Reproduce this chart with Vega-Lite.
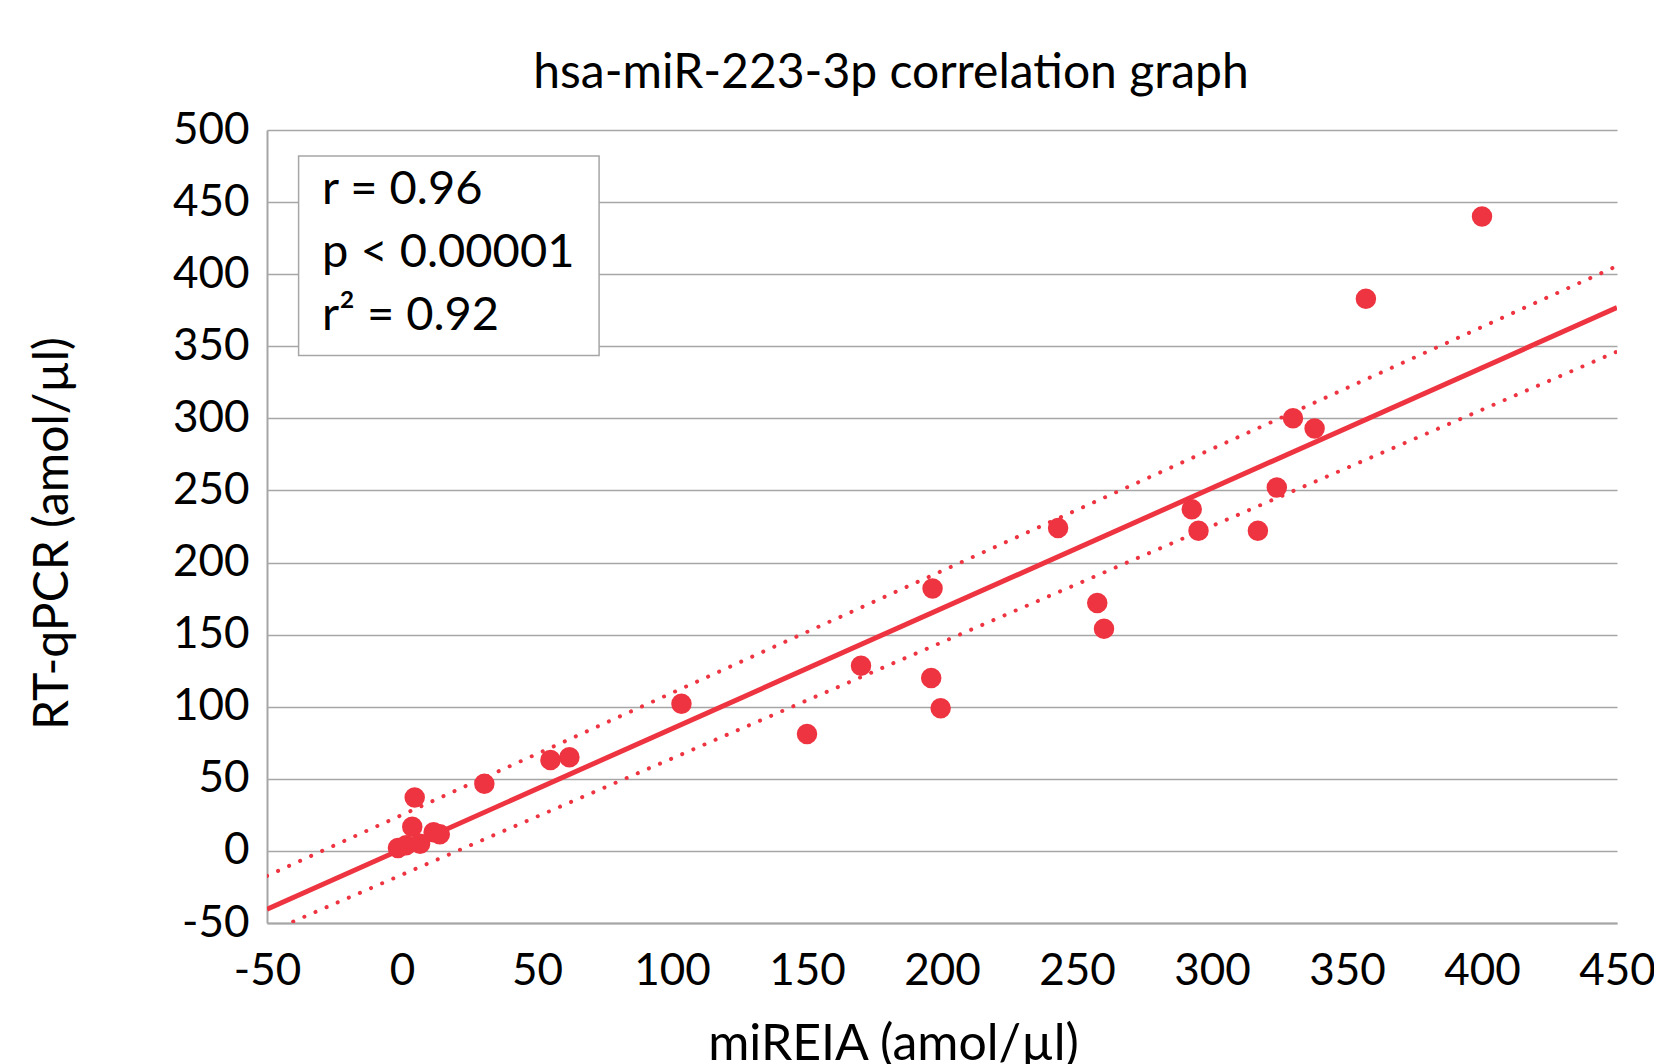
{
  "$schema": "https://vega.github.io/schema/vega-lite/v6.json",
  "width": 1350,
  "height": 793,
  "autosize": {"type": "none"},
  "padding": {"left": 267, "top": 130, "right": 37, "bottom": 141},
  "background": "white",
  "config": {
    "view": {"stroke": null},
    "font": "Lato"
  },
  "title": {
    "text": "hsa-miR-223-3p correlation graph",
    "font": "Lato",
    "fontSize": 48,
    "fontWeight": "normal",
    "color": "#000000",
    "anchor": "middle",
    "frame": "group",
    "baseline": "alphabetic",
    "offset": -28,
    "dx": -51
  },
  "datasets": {
    "points": [
      {"x": 400, "y": 440}, {"x": 357, "y": 383}, {"x": 330, "y": 300}, {"x": 338, "y": 293},
      {"x": 324, "y": 252}, {"x": 292.5, "y": 237}, {"x": 295, "y": 222}, {"x": 317, "y": 222},
      {"x": 243, "y": 224}, {"x": 196.5, "y": 182}, {"x": 257.5, "y": 172}, {"x": 260, "y": 154},
      {"x": 170, "y": 128.5}, {"x": 196, "y": 120}, {"x": 199.5, "y": 99}, {"x": 150, "y": 81},
      {"x": 103.5, "y": 102}, {"x": 62, "y": 65}, {"x": 55, "y": 63}, {"x": 30.5, "y": 46.5},
      {"x": 4.7, "y": 37}, {"x": 3.8, "y": 16.8}, {"x": 11.7, "y": 13}, {"x": 14, "y": 11.6},
      {"x": 6.7, "y": 5}, {"x": -1.5, "y": 2}, {"x": 1.5, "y": 4}
    ],
    "fit": [
      {"x": -50, "y": -40.4}, {"x": 450, "y": 376.8}
    ],
    "bands": [
      {"band": "upper", "x": -50, "y": -17.3}, {"band": "upper", "x": 450, "y": 405.7},
      {"band": "lower", "x": -40.3, "y": -49}, {"band": "lower", "x": 450, "y": 346.3}
    ],
    "box": [
      {"x1": -38.3, "x2": 73, "y1": 343.6, "y2": 482}
    ],
    "notes": [
      {"x": -29.6, "y": 458.4, "label": "r = 0.96"},
      {"x": -29.6, "y": 414.7, "label": "p < 0.00001"},
      {"x": -29.6, "y": 371, "label": "r² = 0.92"}
    ]
  },
  "layer": [
    {
      "data": {"name": "points"},
      "mark": {"type": "point", "opacity": 0},
      "encoding": {
        "x": {
          "field": "x", "type": "quantitative",
          "scale": {"domain": [-50, 450], "nice": false, "zero": false},
          "axis": {
            "values": [-50, 0, 50, 100, 150, 200, 250, 300, 350, 400, 450],
            "labelExpr": "'' + datum.value",
            "title": "miREIA (amol/µl)",
            "titleFont": "Lato", "titleFontSize": 50, "titleFontWeight": "normal", "titleColor": "#000000",
            "titleX": 626, "titleY": 121, "titleBaseline": "middle", "titleAlign": "center", "titleAnchor": null,
            "labelFont": "Lato", "labelFontSize": 44, "labelColor": "#000000",
            "labelPadding": 26, "labelFlush": false, "labelOverlap": false,
            "ticks": false, "grid": false,
            "domainColor": "#A6A6A6", "domainWidth": 2
          }
        },
        "y": {
          "field": "y", "type": "quantitative",
          "scale": {"domain": [-50, 500], "nice": false, "zero": false},
          "axis": {
            "values": [-50, 0, 50, 100, 150, 200, 250, 300, 350, 400, 450, 500],
            "labelExpr": "'' + datum.value",
            "title": "RT-qPCR (amol/µl)",
            "titleFont": "Lato", "titleFontSize": 48, "titleFontWeight": "normal", "titleColor": "#000000",
            "titleX": -214, "titleY": 403, "titleAngle": -90, "titleBaseline": "middle", "titleAlign": "center",
            "labelFont": "Lato", "labelFontSize": 44, "labelColor": "#000000",
            "labelPadding": 18, "labelFlush": false, "labelOverlap": false,
            "ticks": false, "grid": true, "gridColor": "#A6A6A6", "gridWidth": 1.5,
            "domainColor": "#A6A6A6", "domainWidth": 2
          }
        }
      }
    },
    {
      "data": {"name": "bands"},
      "mark": {"type": "line", "color": "#EE3440", "strokeWidth": 4, "strokeCap": "round", "strokeDash": [0.1, 12], "clip": true},
      "encoding": {
        "x": {"field": "x", "type": "quantitative"},
        "y": {"field": "y", "type": "quantitative"},
        "detail": {"field": "band"}
      }
    },
    {
      "data": {"name": "fit"},
      "mark": {"type": "line", "color": "#EE3440", "strokeWidth": 5, "clip": true},
      "encoding": {
        "x": {"field": "x", "type": "quantitative"},
        "y": {"field": "y", "type": "quantitative"}
      }
    },
    {
      "data": {"name": "points"},
      "mark": {"type": "circle", "color": "#EE3440", "opacity": 1, "size": 420},
      "encoding": {
        "x": {"field": "x", "type": "quantitative"},
        "y": {"field": "y", "type": "quantitative"}
      }
    },
    {
      "data": {"name": "box"},
      "mark": {"type": "rect", "fill": "white", "stroke": "#A6A6A6", "strokeWidth": 1.5},
      "encoding": {
        "x": {"field": "x1", "type": "quantitative"},
        "x2": {"field": "x2"},
        "y": {"field": "y1", "type": "quantitative"},
        "y2": {"field": "y2"}
      }
    },
    {
      "data": {"name": "notes"},
      "mark": {"type": "text", "align": "left", "baseline": "middle", "font": "Lato", "fontSize": 47, "color": "#000000"},
      "encoding": {
        "x": {"field": "x", "type": "quantitative"},
        "y": {"field": "y", "type": "quantitative"},
        "text": {"field": "label"}
      }
    }
  ]
}
